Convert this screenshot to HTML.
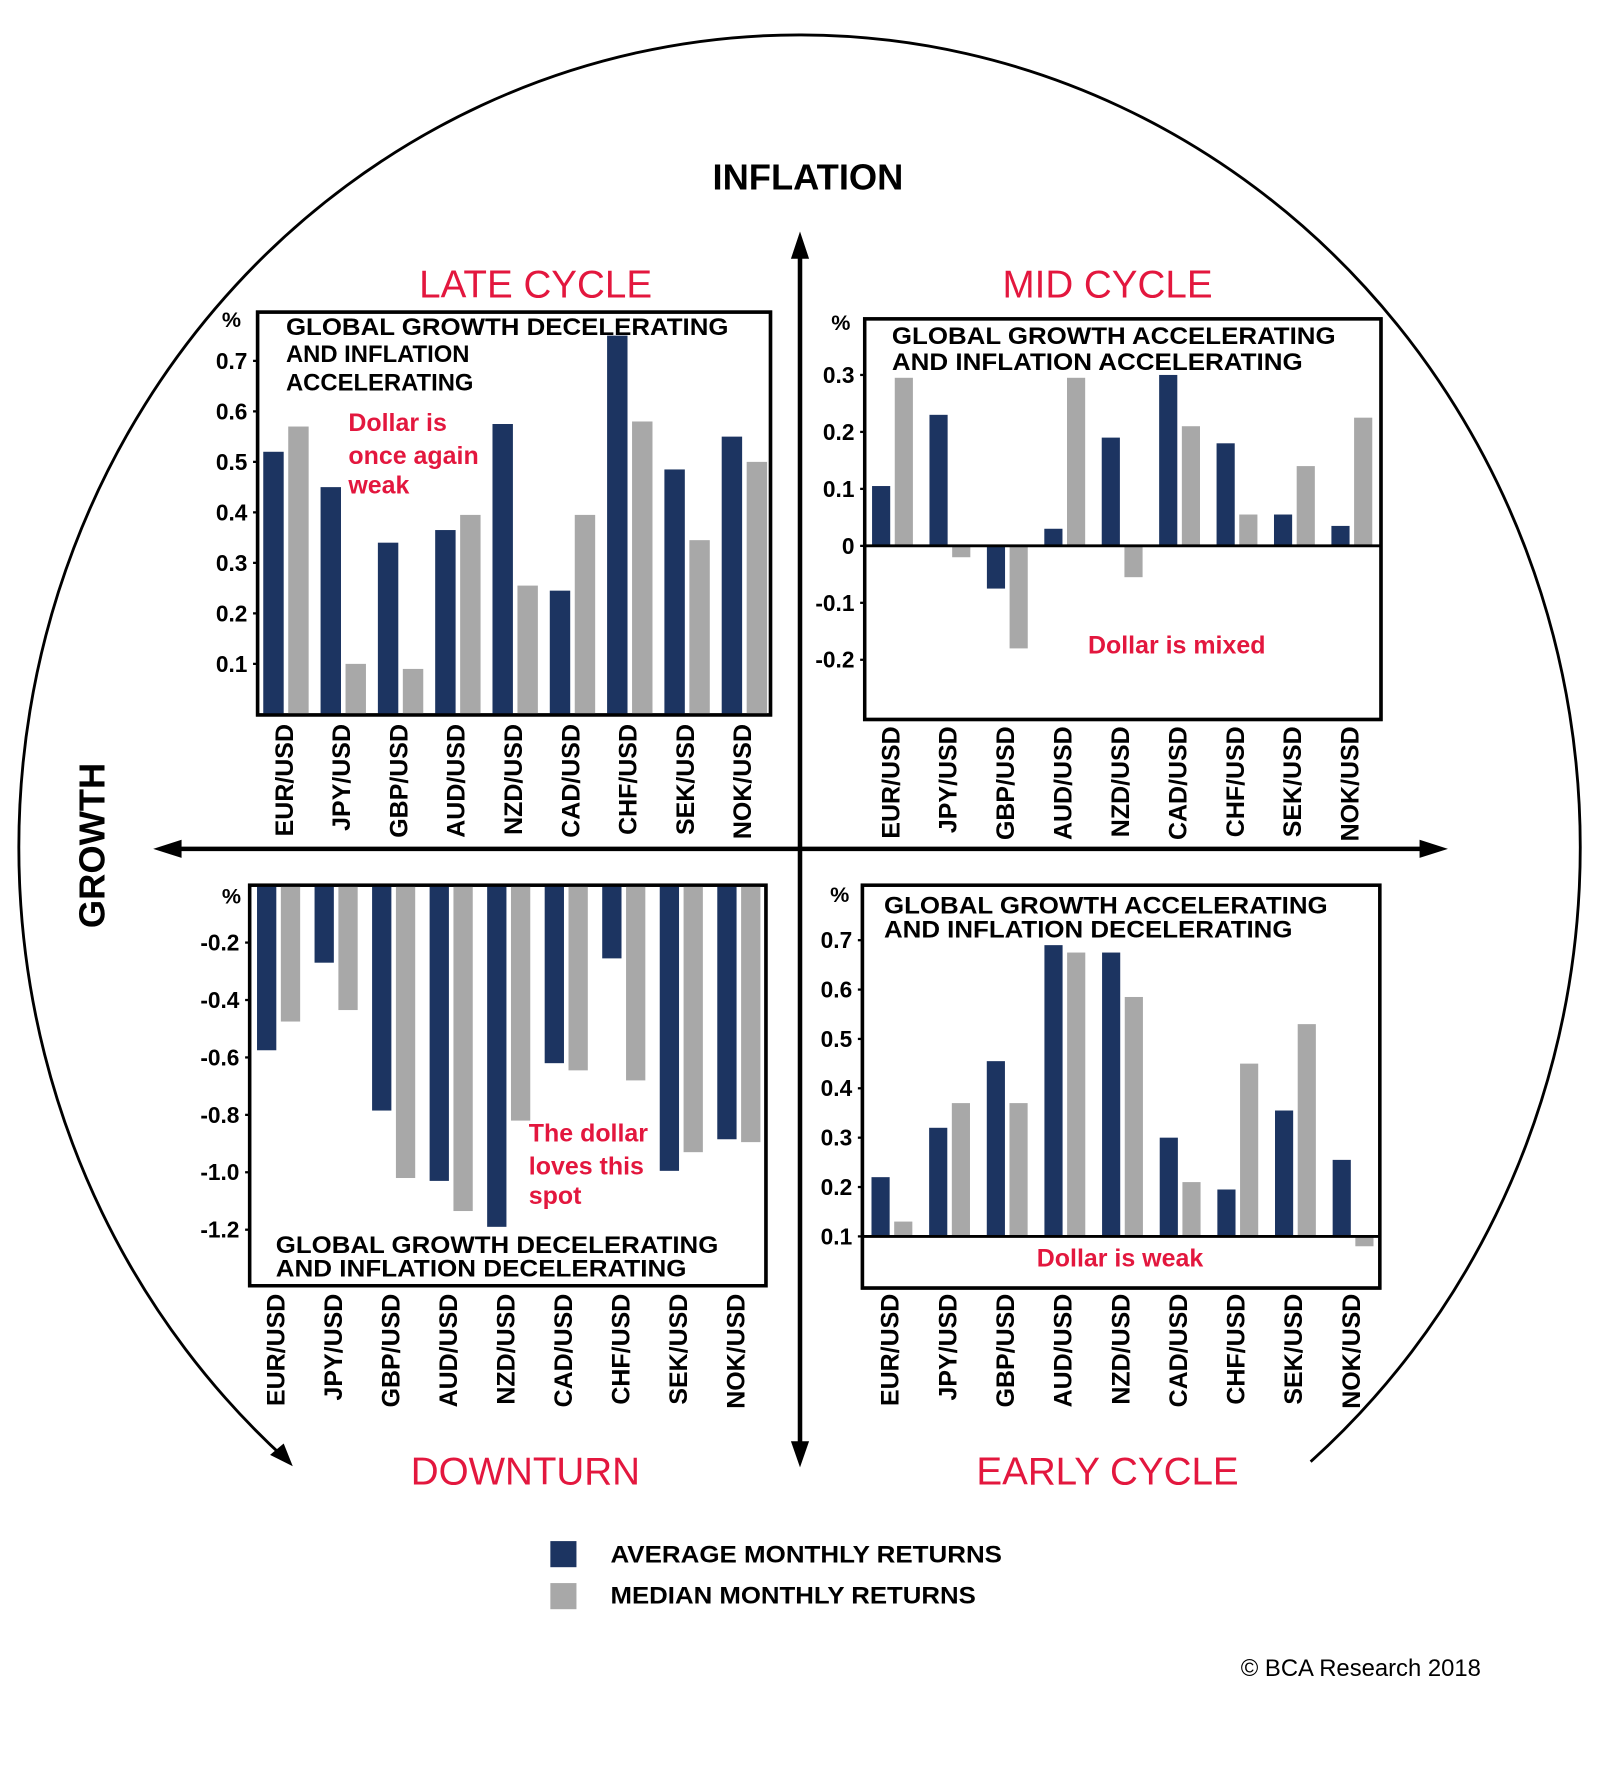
<!DOCTYPE html>
<html><head><meta charset="utf-8"><style>
html,body{margin:0;padding:0;background:#fff;}
svg{display:block;}
text{font-family:"Liberation Sans",Arial,sans-serif;}
</style></head><body>
<svg id="chart" xmlns="http://www.w3.org/2000/svg" width="1600" height="1781" viewBox="0 0 1410 1569.4" preserveAspectRatio="none">
<rect width="1410" height="1569.4" fill="#fff"/>
<g id="frame">
<path d="M1155 1288 A688 716 0 1 0 252 1286" fill="none" stroke="#000" stroke-width="2.5"/>
<polygon points="258,1292 238,1282 250,1272" fill="#000"/>
<line x1="705" y1="220" x2="705" y2="1278" stroke="#000" stroke-width="4"/>
<polygon points="705,204 697,228 713,228" fill="#000"/>
<polygon points="705,1293 697,1270 713,1270" fill="#000"/>
<line x1="150" y1="748" x2="1260" y2="748" stroke="#000" stroke-width="4"/>
<polygon points="135,748 160,740 160,756" fill="#000"/>
<polygon points="1276,748 1251,740 1251,756" fill="#000"/>
<text x="712" y="167" text-anchor="middle" font-size="32" font-weight="bold">INFLATION</text>
<text x="0" y="0" transform="translate(92,745) rotate(-90)" text-anchor="middle" font-size="32" font-weight="bold">GROWTH</text>
<text x="472" y="262" text-anchor="middle" font-size="34" fill="#e3173e">LATE CYCLE</text>
<text x="976" y="262" text-anchor="middle" font-size="34" fill="#e3173e">MID CYCLE</text>
<text x="463" y="1308" text-anchor="middle" font-size="34" fill="#e3173e">DOWNTURN</text>
<text x="976" y="1308" text-anchor="middle" font-size="34" fill="#e3173e">EARLY CYCLE</text>
</g>
<g id="panels"></g>
<g>
<rect x="485" y="1358" width="23" height="23" fill="#1c3461"/>
<text x="538" y="1377" font-size="21" font-weight="bold" textLength="345" lengthAdjust="spacingAndGlyphs">AVERAGE MONTHLY RETURNS</text>
<rect x="485" y="1395" width="23" height="23" fill="#a8a8a8"/>
<text x="538" y="1413" font-size="21" font-weight="bold" textLength="322" lengthAdjust="spacingAndGlyphs">MEDIAN MONTHLY RETURNS</text>
</g>
<text x="1305" y="1477" text-anchor="end" font-size="21">© BCA Research 2018</text>
</svg>
<script>
const categories = ["EUR/USD","JPY/USD","GBP/USD","AUD/USD","NZD/USD","CAD/USD","CHF/USD","SEK/USD","NOK/USD"];
const lateAvg = [0.52,0.45,0.34,0.365,0.575,0.245,0.75,0.485,0.55];
const lateMed = [0.57,0.10,0.09,0.395,0.255,0.395,0.58,0.345,0.50];
const lateTicks = ["0.1","0.2","0.3","0.4","0.5","0.6","0.7"];
const midAvg = [0.105,0.23,-0.075,0.03,0.19,0.30,0.18,0.055,0.035];
const midMed = [0.295,-0.02,-0.18,0.295,-0.055,0.21,0.055,0.14,0.225];
const midTicks = ["-0.2","-0.1","0","0.1","0.2","0.3"];
const downAvg = [-0.575,-0.27,-0.785,-1.03,-1.19,-0.62,-0.255,-0.995,-0.885];
const downMed = [-0.475,-0.435,-1.02,-1.135,-0.82,-0.645,-0.68,-0.93,-0.895];
const downTicks = ["-1.2","-1.0","-0.8","-0.6","-0.4","-0.2"];
const earlyAvg = [0.22,0.32,0.455,0.69,0.675,0.30,0.195,0.355,0.255];
const earlyMed = [0.13,0.37,0.37,0.675,0.585,0.21,0.45,0.53,0.08];
const earlyTicks = ["0.1","0.2","0.3","0.4","0.5","0.6","0.7"];

const NS = "http://www.w3.org/2000/svg";
const root = document.getElementById('panels');
function mk(tag, attrs, parent, txt){
  const e = document.createElementNS(NS, tag);
  for (const k in attrs) e.setAttribute(k, attrs[k]);
  if (txt !== undefined) e.textContent = txt;
  parent.appendChild(e);
  return e;
}
function drawPanel(cfg){
  const g = mk('g', {}, root);
  
  
  const y = v => cfg.y0 + (v - cfg.v0) * cfg.pxPer;
  const xN = i => cfg.x0 + i * cfg.step;
  const box = mk('rect', {x:cfg.box[0], y:cfg.box[1], width:cfg.box[2]-cfg.box[0], height:cfg.box[3]-cfg.box[1], fill:'#fff', stroke:'#000', 'stroke-width':3}, g);
  
  
  for (let i = 0; i < categories.length; i++){
    [[cfg.avg, '#1c3461', 0, 'avg'], [cfg.med, '#a8a8a8', cfg.gOff, 'median']].forEach(s => {
      const v = s[0][i];
      const yb = y(cfg.base), yv = y(v);
      const r = mk('rect', {x:xN(i)+s[2], y:Math.min(yb,yv), width:cfg.bw, height:Math.abs(yv-yb), fill:s[1]}, g);
      
      
    });
    const lab = mk('text', {x:0, y:0, transform:`translate(${xN(i)+cfg.lblOff},${cfg.lblY}) rotate(-90)`, 'text-anchor':'end', 'font-size':22, 'font-weight':'bold'}, g, categories[i]);
    
    
  }
  if (cfg.zeroLine){
    const zl = mk('line', {x1:cfg.box[0], x2:cfg.box[2], y1:y(cfg.base), y2:y(cfg.base), stroke:'#000', 'stroke-width':2.5}, g);
    
    
  }
  mk('rect', {x:cfg.box[0], y:cfg.box[1], width:cfg.box[2]-cfg.box[0], height:cfg.box[3]-cfg.box[1], fill:'none', stroke:'#000', 'stroke-width':3}, g);
  cfg.ticks.forEach(t => {
    const ty = y(parseFloat(t));
    mk('line', {x1:cfg.box[0]-4, x2:cfg.box[0], y1:ty, y2:ty, stroke:'#000', 'stroke-width':2}, g);
    const tl = mk('text', {x:cfg.box[0]-9, y:ty+7, 'text-anchor':'end', 'font-size':20, 'font-weight':'bold'}, g, t);
    
    
  });
  const pc = mk('text', {x:cfg.pct[0], y:cfg.pct[1], 'text-anchor':'middle', 'font-size':19, 'font-weight':'bold'}, g, '%');
  
  
  cfg.desc.forEach(d => {
    const a = {x:d[0], y:d[1], 'font-size':21, 'font-weight':'bold'};
    if (d[3]) { a.textLength = d[3]; a.lengthAdjust = 'spacingAndGlyphs'; }
    const t = mk('text', a, g, d[2]);
    
    
  });
  cfg.note.forEach(d => {
    const t = mk('text', {x:d[0], y:d[1], 'text-anchor':d[3]||'start', 'font-size':22, fill:'#e3173e', 'font-weight':'bold'}, g, d[2]);
    
    
  });
}
drawPanel({name:'late-cycle-panel', box:[227,275,679,630], y0:629.5, v0:0, pxPer:-445, base:0,
  x0:232, step:50.5, bw:18, gOff:22, lblOff:26, lblY:638, avg:lateAvg, med:lateMed, ticks:lateTicks,
  pct:[204,288], desc:[[252,295,'GLOBAL GROWTH DECELERATING',390],[252,319,'AND INFLATION'],[252,344,'ACCELERATING']],
  note:[[307,380,'Dollar is'],[307,409,'once again'],[307,435,'weak']]});
drawPanel({name:'mid-cycle-panel', box:[762,281,1217,634], y0:481, v0:0, pxPer:-502, base:0, zeroLine:true,
  x0:768.5, step:50.6, bw:16, gOff:20, lblOff:24, lblY:640, avg:midAvg, med:midMed, ticks:midTicks,
  pct:[741,291], desc:[[786,303,'GLOBAL GROWTH ACCELERATING',391],[786,326,'AND INFLATION ACCELERATING',362]],
  note:[[1037,576,'Dollar is mixed','middle']]});
drawPanel({name:'downturn-panel', box:[220,780,675,1133], y0:780, v0:0, pxPer:-253, base:0,
  x0:226.5, step:50.7, bw:17, gOff:21, lblOff:24, lblY:1140, avg:downAvg, med:downMed, ticks:downTicks,
  pct:[204,796], desc:[[243,1104,'GLOBAL GROWTH DECELERATING',390],[243,1125,'AND INFLATION DECELERATING',362]],
  note:[[466,1006,'The dollar'],[466,1035,'loves this'],[466,1061,'spot']]});
drawPanel({name:'early-cycle-panel', box:[760,780,1216,1135], y0:1089.5, v0:0.1, pxPer:-435, base:0.1, zeroLine:true,
  x0:768, step:50.8, bw:16, gOff:20, lblOff:24, lblY:1140, avg:earlyAvg, med:earlyMed, ticks:earlyTicks,
  pct:[740,795], desc:[[779,805,'GLOBAL GROWTH ACCELERATING',391],[779,826,'AND INFLATION DECELERATING',360]],
  note:[[987,1116,'Dollar is weak','middle']]});
</script>
</body></html>
